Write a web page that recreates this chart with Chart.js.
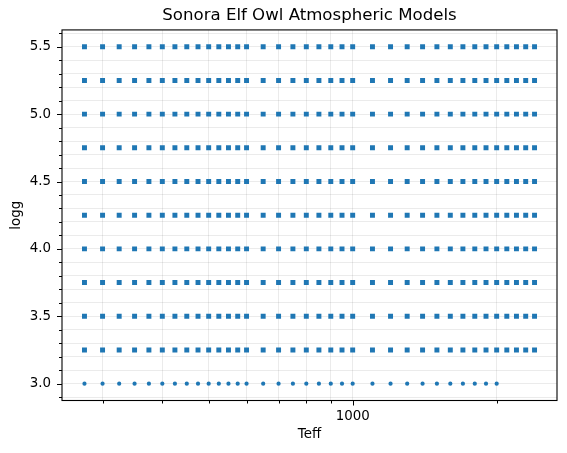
<!DOCTYPE html>
<html>
<head>
<meta charset="utf-8">
<script src="https://cdn.jsdelivr.net/npm/chart.js@4/dist/chart.umd.min.js"></script>
<style>
  html, body { margin: 0; padding: 0; background: #fff; }
  #wrap { width: 567px; height: 453px; }
</style>
</head>
<body>
<div id="wrap"><canvas id="graf" width="567" height="453"></canvas></div>
<script>
// model grid
const teffSvi = [275, 300, 325, 350, 375, 400, 425, 450, 475, 500, 525, 550, 575, 600,
    650, 700, 750, 800, 850, 900, 950, 1000, 1100, 1200, 1300, 1400, 1500, 1600,
    1700, 1800, 1900, 2000, 2100, 2200, 2300, 2400];
const teffNiski = [275, 300, 325, 350, 375, 400, 425, 450, 475, 500, 525, 550, 575, 600,
    650, 700, 750, 800, 850, 900, 950, 1000, 1100, 1200, 1300, 1400, 1500, 1600,
    1700, 1800, 1900, 2000];
const loggGornji = [3.25, 3.5, 3.75, 4.0, 4.25, 4.5, 4.75, 5.0, 5.25, 5.5];
const loggDonji = [3.0];

const xTicks = [300, 400, 500, 600, 700, 800, 900, 1000, 2000];
const xLabele = [1000];
const yTicks = [2.9, 3.0, 3.1, 3.2, 3.3, 3.4, 3.5, 3.6, 3.7, 3.8, 3.9, 4.0, 4.1, 4.2,
    4.3, 4.4, 4.5, 4.6, 4.7, 4.8, 4.9, 5.0, 5.1, 5.2, 5.3, 5.4, 5.5, 5.6];
const yLabele = [3.0, 3.5, 4.0, 4.5, 5.0, 5.5];

function mreza(teffs, loggs) {
    const out = [];
    loggs.forEach(g => teffs.forEach(t => out.push({ x: t, y: g })));
    return out;
}

const font = 'DejaVu Sans';
const boja = '#1f77b4';

// tick marks and the box around the plot, matplotlib style
const okvir = {
    id: 'okvir',
    afterDraw(chart) {
        const { ctx, chartArea: a } = chart;
        const xs = chart.scales.x, ys = chart.scales.y;
        ctx.save();
        ctx.strokeStyle = '#000';
        ctx.lineWidth = 1;
        xTicks.forEach(v => {
            const px = Math.round(xs.getPixelForValue(v)) + 0.5;
            const len = xLabele.includes(v) ? 5 : 3;
            ctx.beginPath();
            ctx.moveTo(px, a.bottom);
            ctx.lineTo(px, a.bottom + len);
            ctx.stroke();
        });
        yTicks.forEach(v => {
            const py = Math.round(ys.getPixelForValue(v)) + 0.5;
            const len = yLabele.some(l => Math.abs(l - v) < 1e-6) ? 5 : 3;
            ctx.beginPath();
            ctx.moveTo(a.left, py);
            ctx.lineTo(a.left - len, py);
            ctx.stroke();
        });
        ctx.lineWidth = 1.1;
        ctx.strokeRect(a.left, a.top, a.right - a.left, a.bottom - a.top);
        ctx.restore();
    }
};

new Chart(document.getElementById('graf').getContext('2d'), {
    type: 'scatter',
    data: {
        datasets: [{
            label: 'logg >= 3.25',
            data: mreza(teffSvi, loggGornji),
            pointStyle: 'rect',
            radius: 3.5,
            backgroundColor: boja,
            borderWidth: 0
        }, {
            label: 'logg 3.0',
            data: mreza(teffNiski, loggDonji),
            pointStyle: 'circle',
            radius: 2.1,
            backgroundColor: boja,
            borderWidth: 0
        }]
    },
    options: {
        responsive: false,
        animation: false,
        layout: { padding: { left: 0, right: 10, top: 0, bottom: 0 } },
        plugins: {
            legend: { display: false },
            tooltip: { enabled: false },
            title: {
                display: true,
                fullSize: false,
                text: 'Sonora Elf Owl Atmospheric Models',
                color: '#000',
                font: { family: font, size: 16.6, weight: 'normal' },
                padding: { top: 6, bottom: 4 }
            }
        },
        scales: {
            x: {
                type: 'logarithmic',
                min: 246.8,
                max: 2674,
                afterBuildTicks: s => { s.ticks = xTicks.map(v => ({ value: v })); },
                afterFit: s => { s.height = 52.5; },
                ticks: {
                    autoSkip: false,
                    maxRotation: 0,
                    padding: 8,
                    color: '#000',
                    font: { family: font, size: 13.4 },
                    callback: v => xLabele.includes(v) ? String(v) : ''
                },
                grid: { color: 'rgba(0,0,0,0.08)', lineWidth: 1, drawTicks: false },
                border: { display: false },
                title: {
                    display: true,
                    text: 'Teff',
                    color: '#000',
                    font: { family: font, size: 13.4 },
                    padding: { top: 0, bottom: 10 }
                }
            },
            y: {
                type: 'linear',
                min: 2.875,
                max: 5.625,
                afterBuildTicks: s => { s.ticks = yTicks.map(v => ({ value: v })); },
                afterFit: s => { s.width = 62; },
                ticks: {
                    autoSkip: false,
                    padding: 11,
                    color: '#000',
                    font: { family: font, size: 13.4 },
                    callback: v => yLabele.some(l => Math.abs(l - v) < 1e-6) ? v.toFixed(1) : ''
                },
                grid: { color: 'rgba(0,0,0,0.08)', lineWidth: 1, drawTicks: false },
                border: { display: false },
                title: {
                    display: true,
                    text: 'logg',
                    color: '#000',
                    font: { family: font, size: 13.4 },
                    padding: { top: 8, bottom: 0 }
                }
            }
        }
    },
    plugins: [okvir]
});
</script>
</body>
</html>
